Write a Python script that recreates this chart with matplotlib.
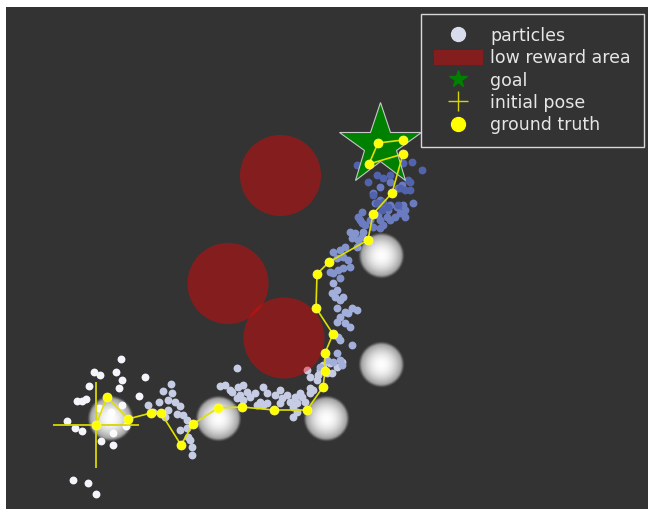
import matplotlib
matplotlib.use("Agg")
import matplotlib.pyplot as plt
import numpy as np
from matplotlib.patches import Circle, Patch
from matplotlib.lines import Line2D

# ground truth trajectory
gt_x = [1.80, 2.02, 2.44, 2.90, 3.10, 3.50, 3.74, 4.24, 4.72, 5.36, 6.02, 6.34, 6.38,
        6.38, 6.54, 6.20, 6.22, 6.46, 7.24, 7.34, 7.72, 7.94, 7.26, 7.44, 7.94]
gt_y = [1.68, 2.24, 1.80, 1.92, 1.92, 1.28, 1.70, 2.02, 2.04, 1.98, 1.98, 2.44, 2.76,
        3.12, 3.50, 4.02, 4.70, 4.94, 5.38, 5.90, 6.32, 7.10, 6.90, 7.32, 7.38]

init_pose = (1.80, 1.68)
goal = (7.48, 7.28)

# low reward areas
low_x = [5.49, 4.44, 5.56]
low_y = [6.67, 4.51, 3.42]
low_r = 0.81

# landmarks (glowing)
lm_x = [2.08, 4.24, 6.40, 7.50, 7.50]
lm_y = [1.80, 1.80, 1.80, 2.88, 5.06]
lm_r = 0.46

# particles, grouped by time (old -> new)
p_white = [(2.30, 3.00), (1.76, 2.74), (1.88, 2.68), (2.20, 2.74), (2.32, 2.58), (1.66, 2.46),
           (2.26, 2.42), (2.78, 2.64), (1.42, 2.16), (1.52, 2.16), (1.60, 2.20), (2.66, 2.26),
           (1.86, 2.02), (2.10, 1.94), (2.32, 2.08), (1.22, 1.76), (1.38, 1.62), (1.52, 1.56),
           (2.40, 1.66), (2.14, 1.52), (1.90, 1.36), (2.14, 1.28), (1.34, 0.58), (1.64, 0.52),
           (1.80, 0.30)]
p_lav = [(3.30, 2.50), (3.14, 2.36), (3.32, 2.32), (3.06, 2.14), (3.24, 2.18), (3.38, 2.14),
         (3.48, 2.06), (2.84, 2.08), (2.94, 1.94), (3.24, 1.98), (3.42, 1.90), (3.54, 1.88),
         (3.62, 1.78), (3.48, 1.58), (3.62, 1.62), (3.64, 1.44), (3.68, 1.38), (3.72, 1.24),
         (3.72, 1.08), (3.18, 1.84),
         (4.62, 2.82), (4.28, 2.46), (4.38, 2.48), (4.52, 2.34), (4.64, 2.44), (4.74, 2.48),
         (4.82, 2.34), (4.88, 2.24), (4.68, 2.28), (4.48, 2.38), (5.14, 2.44), (5.22, 2.32),
         (5.08, 2.14), (5.02, 2.08), (5.22, 2.12), (4.98, 2.32), (5.38, 2.28), (5.48, 2.38),
         (5.52, 2.22), (5.62, 2.28), (5.68, 2.14), (5.74, 2.04), (5.82, 1.94), (5.74, 1.84),
         (5.78, 2.24), (5.92, 2.24), (5.98, 2.14), (5.48, 2.12), (5.14, 2.08), (4.74, 2.18),
         (4.62, 2.22), (6.08, 2.32), (6.14, 2.38), (6.22, 2.58), (6.24, 2.68), (6.28, 2.78),
         (6.34, 2.88), (6.48, 2.92), (6.62, 2.84), (6.52, 2.72), (6.02, 2.78), (6.72, 2.94),
         (6.42, 2.72), (5.88, 2.32), (5.82, 2.12), (6.08, 2.42), (6.08, 2.64)]
p_mid = [(6.28, 2.84), (6.42, 2.98), (6.54, 2.94), (6.68, 2.98), (6.72, 2.88), (6.62, 3.12),
         (6.92, 3.28), (6.68, 3.38), (6.64, 3.44), (6.88, 3.64), (6.78, 3.72), (6.62, 3.74),
         (6.68, 3.84), (6.78, 3.94), (6.92, 4.02), (7.02, 3.98), (6.84, 3.92), (6.62, 4.02),
         (6.68, 4.18), (6.58, 4.24), (6.74, 4.24), (6.52, 4.32), (6.62, 4.38), (6.54, 4.52)]
p_upper = [(6.68, 4.62), (6.54, 4.72), (6.64, 4.78), (6.74, 4.82), (6.48, 4.74), (6.88, 4.84),
           (6.84, 4.98), (6.74, 5.04), (6.62, 5.02), (6.54, 5.14), (6.68, 5.18), (6.78, 5.24),
           (6.92, 5.42), (6.98, 5.52), (6.88, 5.54), (7.04, 5.38), (7.12, 5.44), (7.14, 5.54),
           (7.02, 5.24)]
p_top = [(7.12, 5.72), (7.04, 5.84), (7.12, 5.94), (7.28, 5.78), (7.44, 5.88), (7.48, 5.78),
         (7.62, 5.84), (7.64, 5.98), (7.54, 6.04), (7.68, 6.08), (7.82, 6.04), (7.88, 5.92),
         (7.98, 5.98), (7.94, 6.08), (8.14, 6.12), (7.48, 6.18), (7.38, 6.12), (7.34, 6.32),
         (7.48, 6.44), (7.68, 6.54), (7.84, 6.42), (7.92, 6.48), (7.08, 5.78), (7.18, 5.68),
         (7.54, 5.68), (7.48, 5.62), (7.34, 5.64), (7.98, 5.84), (7.78, 5.84), (7.68, 5.78)]
p_goal = [(7.02, 6.88), (7.18, 6.82), (7.24, 6.54), (7.42, 6.68), (7.54, 6.62), (7.68, 6.68),
          (7.94, 6.92), (8.12, 6.94), (8.32, 6.78), (8.08, 6.54), (7.98, 6.38), (7.34, 6.28),
          (7.54, 6.14), (7.42, 6.12), (7.52, 5.98), (7.64, 6.04), (7.84, 6.08), (8.04, 6.58),
          (7.88, 6.42), (8.08, 6.38)]

groups = [(p_white, '#f4f4fb'), (p_lav, '#c6cce4'), (p_mid, '#a3afdb'),
          (p_upper, '#8494cd'), (p_top, '#6a7bc0'), (p_goal, '#5263ad')]

fig = plt.figure(figsize=(6.48, 5.09), dpi=100)
ax = fig.add_axes([6/648, 0, 642/648, 502/509])
ax.set_facecolor('#333333')
for s in ax.spines.values():
    s.set_visible(False)
ax.set_xticks([])
ax.set_yticks([])

for pts, c in groups:
    xs = [p[0] for p in pts]
    ys = [p[1] for p in pts]
    ax.scatter(xs, ys, s=32, c=c, linewidths=0, zorder=2)

for cx, cy in zip(low_x, low_y):
    ax.add_patch(Circle((cx, cy), low_r, facecolor='red', edgecolor='none', alpha=0.4, zorder=3))

# glowing landmarks
n = 90
g = np.linspace(-1.1, 1.1, n)
gx, gy = np.meshgrid(g, g)
d = np.sqrt(gx**2 + gy**2)
edge = np.clip((1.03 - d) / 0.18, 0, 1)
edge = edge * edge * (3 - 2 * edge)
alpha = np.clip(1 - 0.6 * d**2, 0, 1) * edge
img = np.ones((n, n, 4))
img[..., 3] = alpha
for cx, cy in zip(lm_x, lm_y):
    e = lm_r * 1.1
    ax.imshow(img, extent=[cx - e, cx + e, cy - e, cy + e], interpolation='bilinear',
              zorder=4, aspect='auto')

ax.plot(goal[0], goal[1], marker='*', markersize=62, color='green',
        markeredgecolor='#c8c8c8', markeredgewidth=0.8, zorder=5)
ax.plot(init_pose[0], init_pose[1], marker='+', markersize=62, color='#d6d600',
        markeredgewidth=1.3, zorder=6)
ax.plot(gt_x, gt_y, '-', color='#e0e000', lw=1.2, zorder=7)
ax.plot(gt_x, gt_y, 'o', color='yellow', markersize=6.5, markeredgecolor='#ffff66',
        markeredgewidth=0.5, zorder=8)

ax.set_xlim(0, 12.84)
ax.set_ylim(0, 10.04)

handles = [
    Line2D([], [], ls='none', marker='o', markersize=10, color='#d8dcec'),
    Patch(facecolor='red', alpha=0.4, edgecolor='none'),
    Line2D([], [], ls='none', marker='*', markersize=13, color='green'),
    Line2D([], [], ls='none', marker='+', markersize=14, color='#d6d600', markeredgewidth=1),
    Line2D([], [], ls='none', marker='o', markersize=10, color='yellow'),
]
labels = ['particles', 'low reward area', 'goal', 'initial pose', 'ground truth']
leg = ax.legend(handles, labels, loc='upper right', bbox_to_anchor=(644/648, 1 - 14/509),
                bbox_transform=fig.transFigure, borderaxespad=0, fontsize=12.5,
                labelcolor='#e6e6e6', facecolor='#333333', edgecolor='#d8d8d8',
                framealpha=1, fancybox=False, handlelength=2.85, handleheight=0.95,
                labelspacing=0.25, handletextpad=0.42, borderpad=0.75)
leg.get_frame().set_linewidth(1.0)

fig.savefig('out.png', dpi=100, facecolor='white')
